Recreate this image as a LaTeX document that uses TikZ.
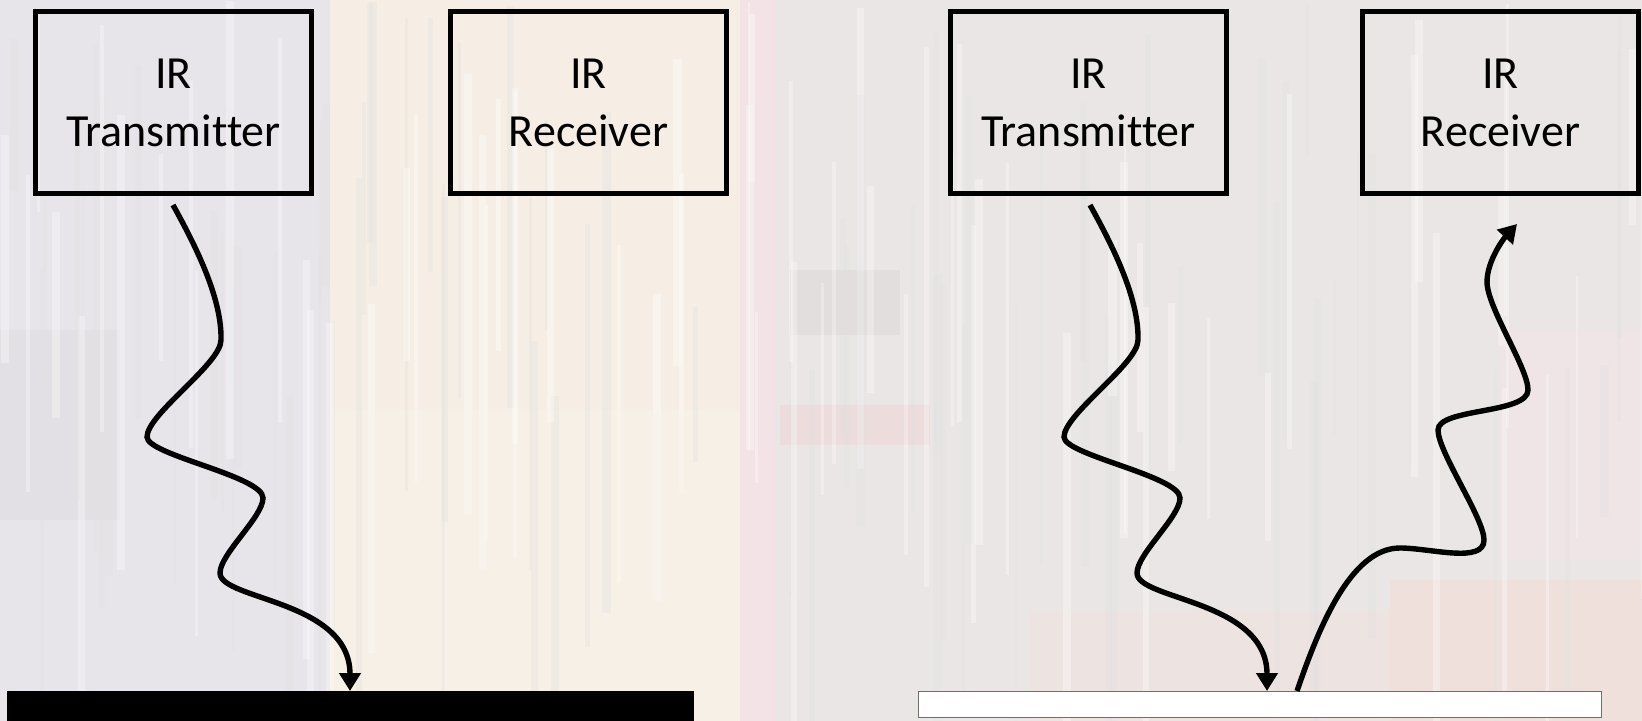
\documentclass[tikz,border=0pt]{standalone}
\usepackage{fontspec}
\setmainfont{Carlito}[Ligatures={NoCommon}]
\usetikzlibrary{arrows.meta}

\definecolor{bgbase}{HTML}{ECE7E8}
\definecolor{bgleft}{HTML}{E8E5EA}
\definecolor{bgwarm}{HTML}{F6EEE5}
\definecolor{bgwarmlow}{HTML}{F6F0E6}
\definecolor{bgpink}{HTML}{F3E3E6}
\definecolor{bgright}{HTML}{EBE6E6}
\definecolor{bgrose}{HTML}{EFE0DC}
\definecolor{bgband}{HTML}{E3DEDE}
\definecolor{bgred}{HTML}{ECDCDB}
\definecolor{barline}{HTML}{6E6E6E}

\tikzset{
  irbox/.style={draw=black, line width=2.4pt, fill=none,
    minimum width=138pt, minimum height=91pt, inner sep=0pt,
    align=center, font=\fontsize{23}{29}\selectfont},
  irwave/.style={line width=2.7pt,
    -{Triangle[length=9pt,width=10.5pt]}},
  stripe/.style={opacity=0.3}
}

\begin{document}
\begin{tikzpicture}[x=0.5pt,y=-0.5pt]
\useasboundingbox (0,0) rectangle (1642,721);

% faded die-photo backdrop
\fill[bgbase] (0,0) rectangle (1642,721);
\fill[bgleft] (0,0) rectangle (330,721);
\fill[bgwarm] (330,0) rectangle (740,410);
\fill[bgwarmlow] (330,410) rectangle (740,721);
\fill[bgpink] (740,0) rectangle (775,721);
\fill[bgright] (775,0) rectangle (1642,721);
\fill[bgband] (790,270) rectangle (900,335);
\fill[bgred] (780,405) rectangle (930,445);
\fill[bgrose] (1390,580) rectangle (1642,721);
\fill[bgrose!40!bgright] (1030,610) rectangle (1390,721);
\fill[bgleft!90!black, opacity=0.2] (0,330) rectangle (120,520);
\fill[bgpink, opacity=0.5] (1500,330) rectangle (1642,560);
\pgfmathsetseed{11}
\foreach \i in {1,...,140}{
  \pgfmathsetmacro{\xx}{rnd*1642}
  \pgfmathsetmacro{\ww}{2+rnd*7}
  \pgfmathsetmacro{\yy}{rnd*400}
  \pgfmathsetmacro{\hh}{150+rnd*400}
  \pgfmathsetmacro{\tone}{rnd>0.5 ? 1 : 0}
  \ifdim\tone pt>0.5pt
    \fill[white, stripe] (\xx,\yy) rectangle ++(\ww,\hh);
  \else
    \fill[black!12, stripe] (\xx,\yy) rectangle ++(\ww,\hh);
  \fi
}

% boxes
\node[irbox] (txL) at (173.5,102.5) {IR\\Transmitter};
\node[irbox] (rxL) at (588.5,102.5) {IR\\Receiver};
\node[irbox] (txR) at (1088.5,102.5) {IR\\Transmitter};
\node[irbox] (rxR) at (1500.5,102.5) {IR\\Receiver};

% surfaces
\node[fill=black, draw=none, inner sep=0pt, minimum width=343.5pt,
  minimum height=15pt, anchor=north west] (dark) at (7,691) {};
\node[fill=white, draw=barline, line width=0.6pt, inner sep=0pt,
  minimum width=341.5pt, minimum height=13pt, anchor=north west] (light) at (918,691) {};

% wave end points
\coordinate (sL) at (173,205);
\coordinate (hitL) at (350,691);
\coordinate (sR) at (1090,205);
\coordinate (hitR) at (1267,691);
\coordinate (bounce) at (1297,691);
\coordinate (rcv) at (1517,224);

% emitted ray, left
\draw[irwave] (sL)
  .. controls (198,250) and (222,300) .. (221,340)
  .. controls (221,364) and (147,414) .. (147,437)
  .. controls (147,455) and (263,476) .. (263,498)
  .. controls (263,517) and (220,554) .. (220,573)
  .. controls (220,600) and (350,600) .. (hitL);

% emitted ray, right
\draw[irwave] (sR)
  .. controls (1115,250) and (1139,300) .. (1138,340)
  .. controls (1138,364) and (1064,414) .. (1064,437)
  .. controls (1064,455) and (1180,476) .. (1180,498)
  .. controls (1180,517) and (1137,554) .. (1137,573)
  .. controls (1137,600) and (1267,600) .. (hitR);

% reflected ray
\draw[irwave] (bounce)
  .. controls (1318,630) and (1350,548) .. (1400,548)
  .. controls (1430,548) and (1484,564) .. (1484,540)
  .. controls (1484,518) and (1438,452) .. (1438,430)
  .. controls (1438,408) and (1528,414) .. (1528,390)
  .. controls (1528,368) and (1487,307) .. (1487,282)
  .. controls (1487,260) and (1505,237) .. (rcv);
\end{tikzpicture}
\end{document}
